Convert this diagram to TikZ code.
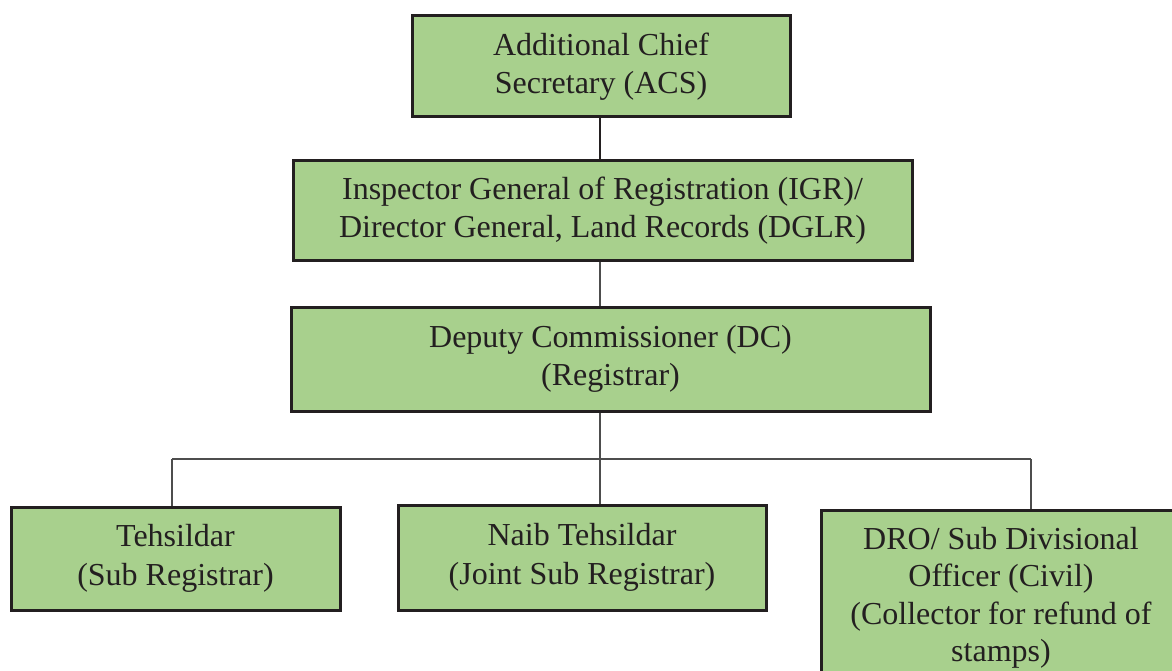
\documentclass[tikz,border=0pt]{standalone}
\usepackage{fontspec}
\setmainfont{Liberation Serif}
\usepackage{xcolor}
\usepackage{tikz}
\definecolor{boxfill}{HTML}{A8D08D}
\definecolor{boxline}{HTML}{231F20}
\definecolor{wire}{HTML}{4D4D4D}
\tikzset{
	post/.style={draw=boxline,line width=3pt,fill=boxfill,text=boxline,align=center,inner sep=0pt,font=\fontsize{32}{38.5}\selectfont},
	link/.style={draw=wire,line width=1.4pt},
	mainlink/.style={draw=boxline,line width=2.8pt}
}

\begin{document}
\begin{tikzpicture}[x=1pt,y=-1pt]
		\useasboundingbox (0,0) rectangle (1172,671);
		\clip (0,0) rectangle (1172,671);
		\coordinate (bus) at (600,459);
		\coordinate (busL) at (172,459);
		\coordinate (busR) at (1031,459);
		
		\node[post,minimum width=378pt,minimum height=101pt] (acs) at (601,66.5) {Additional Chief\\Secretary (ACS)};
		\node[post,minimum width=619pt,minimum height=99pt] (igr) at (602.5,210.5) {Inspector General of Registration (IGR)/\\Director General, Land Records (DGLR)};
		\node[post,minimum width=639pt,minimum height=104pt] (dc) at (610.5,359) {Deputy Commissioner (DC)\\(Registrar)};
		
		\node[post,minimum width=329pt,minimum height=103pt] (tehsildar) at (175.5,558.5) {Tehsildar\\(Sub Registrar)};
		\node[post,minimum width=368pt,minimum height=105pt] (naib) at (582,557.5) {Naib Tehsildar\\(Joint Sub Registrar)};
		\node[post,minimum width=360pt,minimum height=176pt,font=\fontsize{32}{37.5}\selectfont] (dro) at (1001,598) {DRO/ Sub Divisional\\Officer (Civil)\\(Collector for refund of\\stamps)};
		
		\draw[mainlink] (acs.south -| bus) -- (igr.north -| bus);
		\draw[link] (igr.south -| bus) -- (dc.north -| bus);
		\draw[link] (dc.south -| bus) -- (bus);
		
		\draw[link] (busL) -- (busR);
		\draw[link] (busL) -- (tehsildar.north -| busL);
		\draw[link] (bus) -- (naib.north -| bus);
		\draw[link] (busR) -- (dro.north -| busR);
	\end{tikzpicture}
\end{document}
